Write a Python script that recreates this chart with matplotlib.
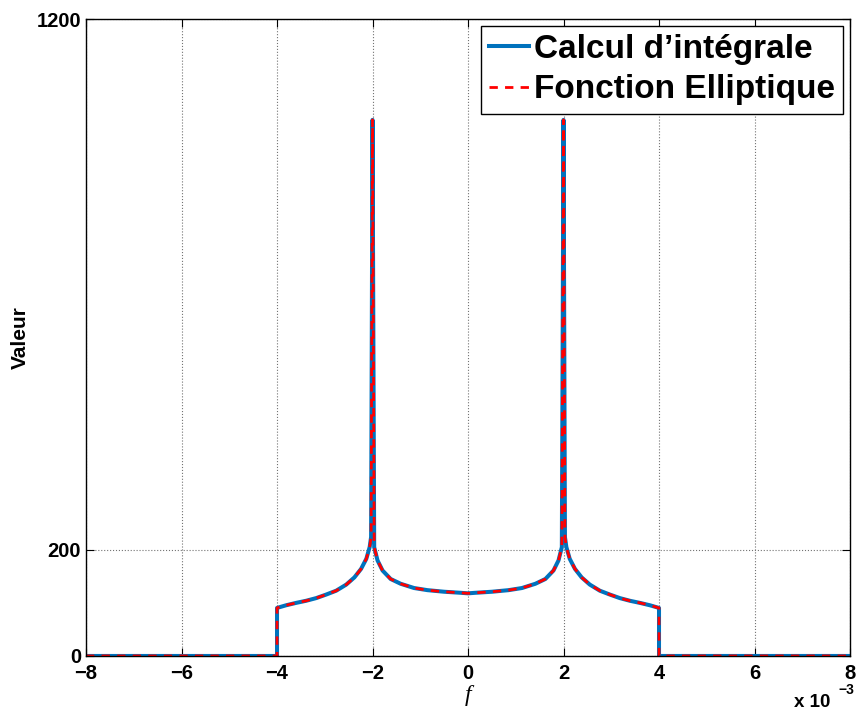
import matplotlib
matplotlib.use("Agg")
import matplotlib.pyplot as plt

# frequency axis in units of 1e-3
f_milli = [-8, -4, -4, -3.81, -3.60, -3.39, -3.18, -2.97, -2.76, -2.55, -2.38,
           -2.24, -2.13, -2.06, -2.03, -2.0, -1.965, -1.895, -1.79, -1.62, -1.41,
           -1.13, -0.85, -0.50, -0.15, 0,
           0.15, 0.50, 0.85, 1.13, 1.41, 1.62, 1.79, 1.895, 1.965, 2.0, 2.03,
           2.06, 2.13, 2.24, 2.38, 2.55, 2.76, 2.97, 3.18, 3.39, 3.60, 3.81,
           4, 4, 8]
valeur = [0, 0, 90.5, 95.5, 100, 104, 109, 115.7, 123, 134.5, 148,
          164, 183, 205, 224, 1010, 205, 180, 161, 145, 136,
          128, 124, 121, 119, 118,
          119, 121, 124, 128, 136, 145, 161, 180, 205, 1010, 224,
          205, 183, 164, 148, 134.5, 123, 115.7, 109, 104, 100, 95.5,
          90.5, 0, 0]

x_ticks = [-8, -6, -4, -2, 0, 2, 4, 6, 8]
y_ticks = [0, 200, 1200]
labels = ["Calcul d\u2019intégrale", "Fonction Elliptique"]

plt.rcParams['font.family'] = ['Liberation Sans', 'DejaVu Sans']
plt.rcParams['font.weight'] = 'bold'

fig = plt.figure(figsize=(8.56, 7.18), dpi=100)
ax = fig.add_axes([0.1005, 0.0864, 0.8925, 0.8871])

ax.plot(f_milli, valeur, color='#0072BD', lw=2.9, label=labels[0])
ax.plot(f_milli, valeur, color='red', lw=2.0, dashes=(3, 2.6), label=labels[1])

ax.set_xlim(-8, 8)
ax.set_ylim(0, 1200)
ax.set_xticks(x_ticks)
ax.set_yticks(y_ticks)
ax.grid(True, linestyle=':', color='0.45', lw=0.8)
ax.tick_params(direction='in', top=True, right=True, length=6, labelsize=14.5, width=0.8)
ax.tick_params(axis='x', pad=6)
for lab in ax.get_xticklabels() + ax.get_yticklabels():
    lab.set_fontweight('bold')
for sp in ax.spines.values():
    sp.set_linewidth(1.0)

ax.set_ylabel('Valeur', fontsize=15, fontweight='bold')
ax.yaxis.set_label_coords(-0.074, 0.5)
ax.set_xlabel('f', fontsize=17, family='Liberation Serif', style='italic',
              fontweight='normal', labelpad=1)
fig.text(0.928, 0.010, 'x 10', fontsize=13.5, fontweight='bold', ha='left', va='bottom')
fig.text(0.979, 0.029, '\u22123', fontsize=10, fontweight='bold', ha='left', va='bottom')

leg = ax.legend(loc='upper right', fontsize=24, handlelength=1.2, handletextpad=0.15,
                labelspacing=0.28, borderpad=0.25, borderaxespad=0.2,
                fancybox=False, framealpha=1, edgecolor='black')
leg.get_frame().set_linewidth(1.0)
for t in leg.get_texts():
    t.set_fontweight('bold')

fig.savefig('out.png', dpi=100)
